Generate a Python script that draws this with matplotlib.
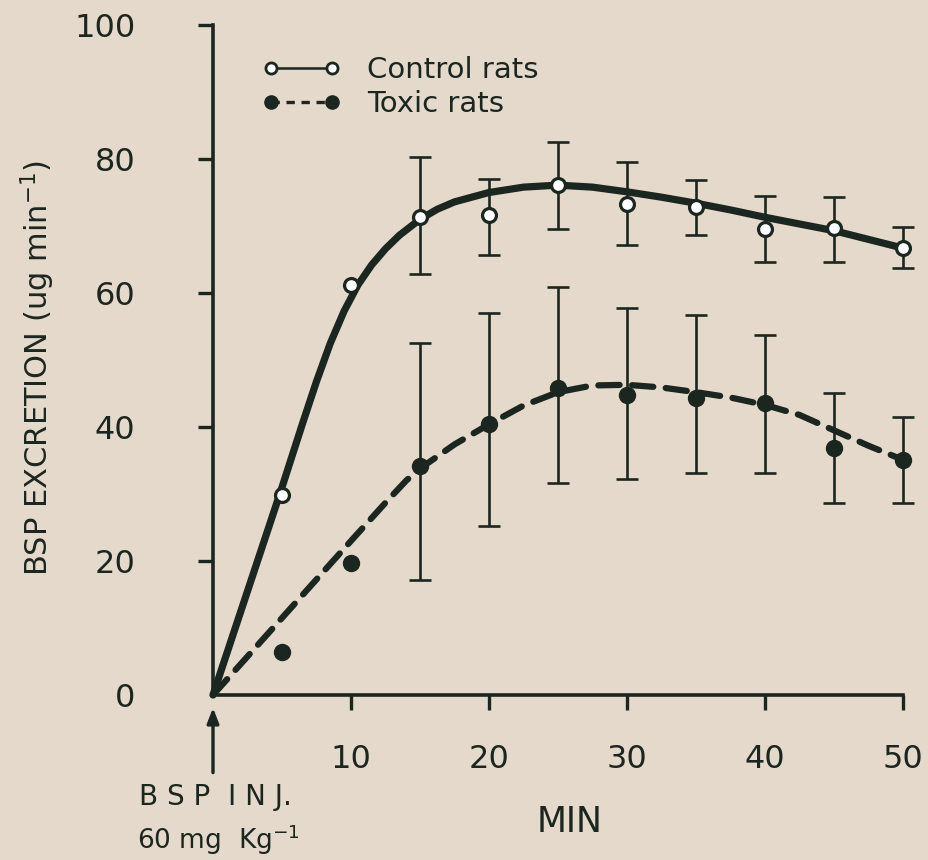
import matplotlib
matplotlib.use("Agg")
import matplotlib.pyplot as plt
from matplotlib.lines import Line2D

# ---- data ----
minutes = [5, 10, 15, 20, 25, 30, 35, 40, 45, 50]

control_mean = [29.9, 61.2, 71.3, 71.6, 76.1, 73.3, 72.8, 69.6, 69.7, 66.7]
toxic_mean = [6.4, 19.7, 34.2, 40.4, 45.8, 44.8, 44.3, 43.6, 36.9, 35.1]

# error bars only from 15 min onwards
err_minutes = [15, 20, 25, 30, 35, 40, 45, 50]
control_hi = [80.3, 77.0, 82.6, 79.6, 76.9, 74.5, 74.3, 69.9]
control_lo = [62.8, 65.7, 69.6, 67.2, 68.7, 64.6, 64.6, 63.7]
toxic_hi = [52.5, 57.0, 60.9, 57.8, 56.7, 53.7, 45.1, 41.5]
toxic_lo = [17.2, 25.2, 31.6, 32.2, 33.1, 33.1, 28.7, 28.7]

# hand drawn fitted curves (traced)
control_curve_x = [0, 2.5, 5, 6.5, 7.5, 8.5, 9.5, 10.5, 11.5, 12.5, 13.5, 15, 16.25, 17.5, 20,
                   22.5, 25, 27.5, 30, 32.5, 35, 37.5, 40, 42.5, 45, 47.5, 50]
control_curve_y = [0, 15.5, 31.0, 40.6, 46.8, 52.5, 57.3, 61.2, 64.2, 66.6, 68.6, 71.0, 72.5, 73.6,
                   75.0, 75.8, 76.1, 75.8, 75.1, 74.3, 73.4, 72.4, 71.3, 70.3, 69.3, 68.0, 66.7]
toxic_curve_x = [0, 5, 10, 12.5, 14, 15, 17.5, 20, 22.5, 25, 27.5, 30, 32.5, 35,
                 37.5, 40, 42.5, 45, 47.5, 50]
toxic_curve_y = [0, 11.5, 23.0, 28.7, 32.0, 33.8, 37.4, 40.4, 43.2, 45.2, 46.2, 46.3, 45.9, 45.2,
                 44.4, 43.3, 41.8, 39.5, 37.2, 35.1]

x_ticks = [10, 20, 30, 40, 50]
y_ticks = [0, 20, 40, 60, 80, 100]

# ---- style ----
paper = "#e4d9ca"
ink = "#1c2620"
plt.rcParams["font.family"] = ["DejaVu Sans"]

W, H = 929, 860
fig = plt.figure(figsize=(W / 100, H / 100), dpi=100, facecolor=paper)
ax = fig.add_axes([213 / W, 1 - 695 / H, 690 / W, 670 / H])
ax.set_facecolor(paper)

# curves
ax.plot(control_curve_x, control_curve_y, color=ink, lw=5.2, solid_capstyle="round",
        solid_joinstyle="round", clip_on=False, zorder=2)
ax.plot(toxic_curve_x, toxic_curve_y, color=ink, lw=4.5, dashes=(3.4, 2.0),
        dash_capstyle="round", clip_on=False, zorder=2)

# error bars
c_err = [[m - lo for m, lo in zip(control_mean[2:], control_lo)],
         [hi - m for m, hi in zip(control_mean[2:], control_hi)]]
t_err = [[m - lo for m, lo in zip(toxic_mean[2:], toxic_lo)],
         [hi - m for m, hi in zip(toxic_mean[2:], toxic_hi)]]
for means, err in [(control_mean[2:], c_err), (toxic_mean[2:], t_err)]:
    eb = ax.errorbar(err_minutes, means, yerr=err, fmt="none", ecolor=ink,
                     elinewidth=1.9, capsize=8, capthick=1.9, zorder=3)
    for art in eb.lines[1] + eb.lines[2]:
        art.set_clip_on(False)

# points
ax.plot(minutes, toxic_mean, "o", ms=11.5, color=ink, clip_on=False, zorder=4)
ax.plot(minutes, control_mean, "o", ms=10, mfc="white", mec=ink, mew=2.3,
        clip_on=False, zorder=4)

# axes
ax.set_xlim(0, 50)
ax.set_ylim(0, 100)
for s in ["top", "right"]:
    ax.spines[s].set_visible(False)
for s in ["left", "bottom"]:
    ax.spines[s].set_linewidth(2.6)
    ax.spines[s].set_color(ink)
ax.set_xticks(x_ticks)
ax.set_xticklabels([str(v) for v in x_ticks])
ax.set_yticks(y_ticks)
ax.set_yticklabels([str(v) for v in y_ticks])
ax.tick_params(axis="both", direction="out", length=11, width=2.4, color=ink,
               labelcolor=ink, labelsize=23)
ax.tick_params(axis="y", pad=45)
ax.tick_params(axis="x", pad=24)
ax.yaxis.get_major_ticks()[0].tick1line.set_visible(False)

# legend
handles = [
    Line2D([], [], color=ink, lw=1.8, marker="o", ms=8, mfc="white", mec=ink, mew=2),
    Line2D([], [], color=ink, lw=2.4, dashes=(2.5, 2.0), marker="o", ms=9.5, mfc=ink, mec=ink),
]
ax.legend(handles, ["Control rats", "Toxic rats"], loc="upper left",
          bbox_to_anchor=(0.05, 0.975), frameon=False, fontsize=21,
          handlelength=2.7, handletextpad=0.9, labelspacing=0.2, borderpad=0,
          numpoints=2, labelcolor=ink)

# injection arrow and labels
ax.annotate("", xy=(0, -1.5), xytext=(0, -12), annotation_clip=False,
            arrowprops=dict(arrowstyle="-|>,head_length=0.9,head_width=0.35",
                            color=ink, lw=2.4))
fig.text(215 / W, 1 - 797 / H, "B S P  I N J.", ha="center", va="center",
         fontsize=20, color=ink)
fig.text(218 / W, 1 - 840 / H, r"60 mg  Kg$^{-1}$", ha="center", va="center",
         fontsize=19, color=ink)
fig.text(570 / W, 1 - 822 / H, "MIN", ha="center", va="center", fontsize=25, color=ink)
fig.text(38 / W, 1 - 368 / H, r"BSP EXCRETION (ug min$^{-1}$)", rotation=90,
         ha="center", va="center", fontsize=22, color=ink)

fig.savefig("out.png", dpi=100, facecolor=paper)
